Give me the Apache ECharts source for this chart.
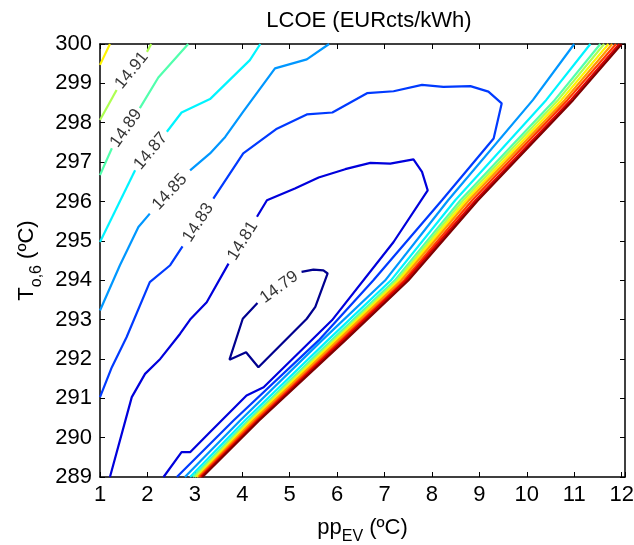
<!DOCTYPE html>
<html>
<head>
<meta charset="utf-8">
<script src="https://cdn.jsdelivr.net/npm/echarts@6/dist/echarts.min.js"></script>
<style>
html, body { margin: 0; padding: 0; background: #fff; }
#chart { width: 634px; height: 545px; }
</style>
</head>
<body>
<div id="chart"></div>
<script>
var levels = [14.79, 14.81, 14.83, 14.85, 14.87, 14.89, 14.91, 14.93, 14.95, 14.97, 14.99, 15.01];
var levelColors = ['#00008f', '#0000dc', '#003aff', '#0097ff', '#00f4ff', '#51ffad',
                   '#adff51', '#fff400', '#ff9700', '#ff3a00', '#dc0000', '#800000'];

// contour pieces, [pp, T]; breaks are where the labels sit
var c1479 = [
    [[4.32, 293.42], [4.01, 293.02], [3.73, 291.98], [4.08, 292.17], [4.34, 291.79], [5.36, 293.02],
     [5.54, 293.32], [5.80, 294.17], [5.71, 294.25], [5.50, 294.27], [5.25, 294.21]]
];
var c1481 = [
    [[1.21, 289.0], [1.67, 291.03], [1.95, 291.62], [2.27, 292.0], [2.69, 292.64], [2.90, 293.0],
     [3.25, 293.44], [3.71, 294.42]],
    [[4.31, 295.61], [4.52, 296.03], [5.11, 296.33], [5.61, 296.61], [6.17, 296.82], [6.70, 296.98],
     [7.12, 296.96], [7.61, 297.07], [7.79, 296.75], [7.91, 296.28], [7.19, 294.97], [5.89, 292.98],
     [4.45, 291.28], [4.09, 291.07], [3.28, 290.09], [2.90, 289.63], [2.72, 289.63], [2.34, 289.0]]
];
var c1483 = [
    [[1.00, 291.03], [1.25, 291.79], [1.56, 292.55], [2.05, 293.95], [2.48, 294.38], [2.74, 294.86]],
    [[3.39, 296.07], [4.02, 297.22], [4.73, 297.85], [5.36, 298.21], [5.90, 298.26], [6.63, 298.75],
     [7.19, 298.80], [7.79, 298.96], [8.24, 298.91], [8.81, 298.93], [9.19, 298.79], [9.47, 298.49],
     [9.30, 297.60], [8.21, 296.03], [6.76, 293.99], [5.61, 292.47], [3.81, 290.43], [2.62, 289.0]]
];
var c1485 = [
    [[1.00, 293.23], [1.42, 294.38], [1.81, 295.35], [2.05, 295.69]],
    [[2.90, 296.79], [3.32, 297.22], [3.64, 297.64], [4.02, 298.28], [4.69, 299.38], [5.36, 299.61], [5.83, 300]]
];
var c1487 = [
    [[1.00, 294.97], [1.74, 296.79]],
    [[2.41, 297.77], [2.72, 298.26], [3.32, 298.60], [4.16, 299.59], [4.38, 300]]
];
var c1489 = [
    [[1.00, 296.67], [1.25, 297.35]],
    [[1.84, 298.37], [2.23, 299.15], [2.86, 300]]
];
var c1491 = [
    [[1.00, 298.07], [1.35, 298.83]],
    [[1.99, 299.8], [2.08, 300]]
];
var c1493 = [
    [[1.00, 299.47], [1.21, 300]]
];
var pieces = [c1479, c1481, c1483, c1485, c1487, c1489, c1491, c1493];

// steep band on the right: pp of each level (14.85 .. 15.01) at these T
var bandT = [300, 298.58, 296.03, 293.99, 292.47, 290.43, 289];
var band1485 = [11.00, 10.13, 8.34, 7.01, 5.68, 3.95, 2.79];
var band1487 = [11.34, 10.41, 8.49, 7.13, 5.80, 4.05, 2.90];
var band1489 = [11.55, 10.59, 8.60, 7.21, 5.88, 4.12, 2.96];
var band1491 = [11.63, 10.66, 8.66, 7.26, 5.93, 4.16, 3.00];
var band1493 = [11.72, 10.73, 8.72, 7.30, 5.97, 4.19, 3.04];
var band1495 = [11.80, 10.80, 8.78, 7.35, 6.02, 4.23, 3.07];
var band1497 = [11.88, 10.86, 8.85, 7.41, 6.08, 4.28, 3.10];
var band1499 = [11.95, 10.93, 8.92, 7.45, 6.12, 4.32, 3.13];
var band1501 = [12.00, 10.98, 8.97, 7.50, 6.17, 4.35, 3.16];
var bands = [band1485, band1487, band1489, band1491, band1493, band1495, band1497, band1499, band1501];

var labelText = ['14.79', '14.81', '14.83', '14.85', '14.87', '14.89', '14.91'];
var labelPos = [[4.78, 293.82], [4.01, 295.0], [3.07, 295.46], [2.47, 296.24], [2.07, 297.28], [1.55, 297.86], [1.67, 299.33]];
var labelAngle = [36, 58, 57, 47, 50, 55, 51];

var font = 'Liberation Sans, Arial, Helvetica, sans-serif';

var series = [];
function addLine(points, color) {
    series.push({
        type: 'line',
        data: points,
        symbol: 'none',
        showSymbol: false,
        silent: true,
        lineStyle: { color: color, width: 2.2 },
        z: 2
    });
}
for (var i = 0; i < levels.length; i++) {
    if (pieces[i]) {
        for (var j = 0; j < pieces[i].length; j++) addLine(pieces[i][j], levelColors[i]);
    }
    var b = bands[i - 3];
    if (b) {
        var pts = [];
        for (var k = 0; k < bandT.length; k++) pts.push([b[k], bandT[k]]);
        addLine(pts, levelColors[i]);
    }
}

var labelData = [];
for (var i = 0; i < labelText.length; i++) {
    labelData.push({
        value: labelPos[i],
        label: { rotate: labelAngle[i], formatter: labelText[i] }
    });
}
series.push({
    type: 'scatter',
    data: labelData,
    symbolSize: 0,
    silent: true,
    z: 5,
    label: {
        show: true,
        position: 'inside',
        color: '#000',
        fontSize: 17,
        fontFamily: font
    }
});

var axisLine = { show: true, onZero: false, lineStyle: { color: '#000', width: 1.5 } };
var axisTick = { show: true, inside: true, length: 5, lineStyle: { color: '#000', width: 1 } };

option = {
    animation: false,
    backgroundColor: '#fff',
    title: {
        text: 'LCOE (EURcts/kWh)',
        left: 364,
        top: 5,
        textAlign: 'center',
        textStyle: { fontSize: 22, fontWeight: 'normal', color: '#000', fontFamily: font }
    },
    grid: { left: 100, right: 9, top: 44, bottom: 68, containLabel: false, outerBoundsMode: 'none' },
    xAxis: [{
        type: 'value',
        min: 1,
        max: 12.07,
        interval: 1,
        position: 'bottom',
        axisLine: axisLine,
        axisTick: axisTick,
        splitLine: { show: false },
        axisLabel: {
            color: '#000', fontSize: 22, margin: 7, fontFamily: font,
            formatter: function (v) { return Math.abs(v - Math.round(v)) < 1e-6 ? String(Math.round(v)) : ''; }
        },
        name: 'pp{sub|EV} (ºC)',
        nameLocation: 'middle',
        nameGap: 27,
        nameTextStyle: {
            color: '#000', fontSize: 22, fontFamily: font, lineHeight: 34,
            rich: { sub: { fontSize: 16, fontFamily: font, color: '#000', verticalAlign: 'bottom', lineHeight: 16 } }
        }
    }, {
        type: 'value',
        min: 1,
        max: 12.07,
        interval: 1,
        position: 'top',
        axisLine: axisLine,
        axisTick: axisTick,
        splitLine: { show: false },
        axisLabel: { show: false }
    }],
    yAxis: [{
        type: 'value',
        min: 289,
        max: 300,
        interval: 1,
        position: 'left',
        axisLine: axisLine,
        axisTick: axisTick,
        splitLine: { show: false },
        axisLabel: { color: '#000', fontSize: 22, margin: 8, fontFamily: font },
        name: 'T{sub|o,6} (ºC)',
        nameLocation: 'middle',
        nameGap: 55,
        nameTextStyle: {
            color: '#000', fontSize: 22, fontFamily: font, lineHeight: 34,
            rich: { sub: { fontSize: 16, fontFamily: font, color: '#000', verticalAlign: 'bottom', lineHeight: 16 } }
        }
    }, {
        type: 'value',
        min: 289,
        max: 300,
        interval: 1,
        position: 'right',
        axisLine: axisLine,
        axisTick: axisTick,
        splitLine: { show: false },
        axisLabel: { show: false }
    }],
    series: series
};

var myChart = echarts.init(document.getElementById('chart'));
myChart.setOption(option);
window.onresize = myChart.resize;
</script>
</body>
</html>
